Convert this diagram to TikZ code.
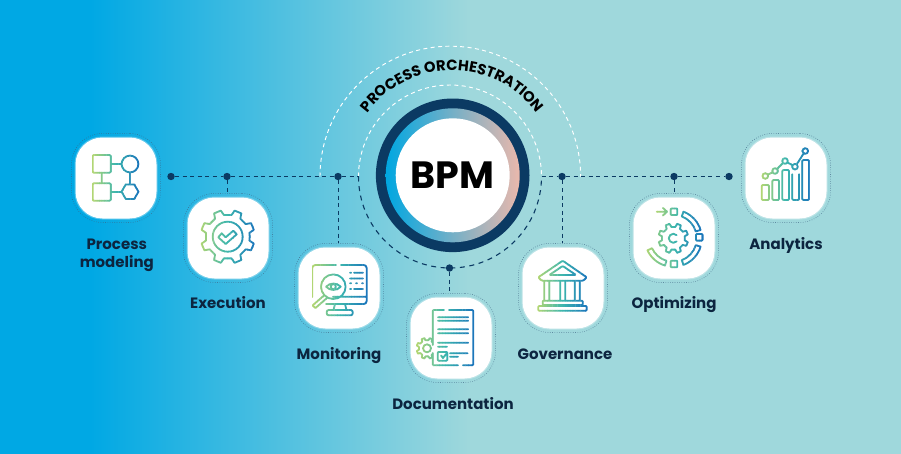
\documentclass[tikz,border=0pt]{standalone}
\usepackage{fontspec}
\setmainfont{Poppins}
\usetikzlibrary{decorations.text,arrows.meta,calc}
\definecolor{navy}{HTML}{0B3A63}
\definecolor{labelink}{HTML}{0C2540}
\definecolor{bgA}{HTML}{00A8E4}
\definecolor{bgB}{HTML}{9FD8DC}
\definecolor{icG}{HTML}{B7D871}
\definecolor{icT}{HTML}{3DB6AE}
\definecolor{icB}{HTML}{1A74BC}
\definecolor{ringA}{HTML}{00A7E1}
\definecolor{ringM}{HTML}{7FC3C8}
\definecolor{ringB}{HTML}{EAB8AC}
% Strokes a path with a left-to-right green/teal/blue ramp, one vertical strip at a time.
% #1,#2 horizontal extent; #3,#4 vertical extent; #5 the path.
\newcommand\rampstroke[5]{%
  \foreach \i in {0,...,19}{%
    \pgfmathsetmacro\xa{#1+(#2-#1)*\i/20}%
    \pgfmathsetmacro\xb{#1+(#2-#1)*(\i+1)/20+0.3}%
    \pgfmathsetmacro\tt{(\i+0.5)/20}%
    \pgfmathparse{\tt<0.5?1:0}%
    \ifnum\pgfmathresult=1
      \pgfmathsetmacro\pc{\tt*200}\colorlet{stripc}{icT!\pc!icG}%
    \else
      \pgfmathsetmacro\pc{(\tt-0.5)*200}\colorlet{stripc}{icB!\pc!icT}%
    \fi
    \begin{scope}
      \clip (\xa,#3) rectangle (\xb,#4);
      \draw[iconline,draw=stripc] #5;
    \end{scope}
  }%
}
% Closed gear outline about the current origin: #1 outer radius, #2 root radius, #3 teeth.
\newcommand\gearoutline[3]{%
  (0:#2) \foreach \k in {0,...,\numexpr#3-1\relax}{
    -- ({(\k+0.22)*360/#3}:#2) -- ({(\k+0.33)*360/#3}:#1)
    -- ({(\k+0.67)*360/#3}:#1) -- ({(\k+0.78)*360/#3}:#2)
  } -- cycle}
% One icon tile: dotted outline, pale halo, white face.
\newcommand\tile[3]{%
  \node[tilering] (#1-ring) at (#2,#3) {};
  \node[tilehalo] at (#2,#3) {};
  \node[tileface] (#1) at (#2,#3) {};
}
\tikzset{
  iconline/.style={line width=1.8pt,line join=round,line cap=round},
  tilering/.style={draw=navy!80,line width=0.5pt,dash pattern=on 0.6pt off 1.7pt,rectangle,rounded corners=31pt,minimum size=89pt,inner sep=0pt},
  tilehalo/.style={fill=white,fill opacity=0.3,rectangle,rounded corners=27.5pt,minimum size=83pt,inner sep=0pt},
  tileface/.style={fill=white,rectangle,rounded corners=27pt,minimum size=81pt,inner sep=0pt},
  link/.style={draw=navy,line width=0.85pt,dash pattern=on 4pt off 3.6pt},
  arcwhite/.style={draw=white,line width=0.95pt,dash pattern=on 4pt off 3.4pt},
  arcnavy/.style={draw=navy,line width=1.1pt,dash pattern=on 5pt off 4.6pt},
  junction/.style={circle,fill=navy,minimum size=7.4pt,inner sep=0pt},
  caption/.style={font=\fontsize{15}{18}\selectfont\bfseries,text=labelink,align=center,inner sep=0pt,anchor=base},
}
\begin{document}
\begin{tikzpicture}[x=1pt,y=-1pt]
\useasboundingbox (0,0) rectangle (901,453);
% backdrop
\fill[bgA] (-2,-2) rectangle (90.5,455);
\shade[left color=bgA,right color=bgB] (90,-2) rectangle (470.5,455);
\fill[bgB] (470,-2) rectangle (903,455);

% orbit arcs around the hub
\draw[arcwhite] (320,176.5) arc[start angle=180,end angle=360,radius=130.3];
\draw[arcwhite] (358.5,176.5) arc[start angle=180,end angle=360,radius=91.5];
\draw[arcnavy] (358.5,176.5) arc[start angle=180,end angle=0,radius=91.5];
\path[postaction={decorate,decoration={text along path,text align=center,
    text={|\fontsize{14.8}{16}\selectfont\bfseries\color{black}|PROCESS ORCHESTRATION}}}]
  (346.7,176) arc[start angle=180,end angle=360,radius=105.5];

% hub
\fill[navy] (452.7,175.3) circle[radius=76.8];
\shade[left color=ringA,middle color=ringM,right color=ringB] (452.7,175.3) circle[radius=67];
\node[circle,fill=white,minimum size=114pt,inner sep=0pt,font=\fontsize{38}{40}\selectfont\bfseries,text=black] (hub) at (452.7,175.3) {BPM};

% tiles
\tile{modeling}{116}{178}
\tile{execution}{228}{238}
\tile{monitoring}{339}{288}
\tile{documentation}{451}{338}
\tile{governance}{563}{288}
\tile{optimizing}{674}{238}
\tile{analytics}{786}{178}

% junctions and connectors
\node[junction] (jA) at (171,176.5) {};
\node[junction] (jB) at (227,176.5) {};
\node[junction] (jC) at (338,176.5) {};
\node[junction] (jD) at (562,176.5) {};
\node[junction] (jE) at (674,176.5) {};
\node[junction] (jF) at (729,176.5) {};
\node[junction] (jG) at (449.5,268) {};
\coordinate (arcL) at (358.5,176.5);
\coordinate (arcR) at (541.5,176.5);
\draw[link] (jA) -- (jB);
\draw[link] (jB) -- (jC);
\draw[link] (jC) -- (arcL);
\draw[link] (arcR) -- (jD);
\draw[link] (jD) -- (jE);
\draw[link] (jE) -- (jF);
\draw[link] (jB) -- (execution-ring.north -| jB);
\draw[link] (jC) -- (monitoring-ring.north -| jC);
\draw[link] (jD) -- (governance-ring.north -| jD);
\draw[link] (jE) -- (optimizing-ring.north -| jE);
\draw[link] (jG) -- (documentation-ring.north -| jG);

% captions
\node[caption] (capA) at (116.8,267) {Process\\modeling};
\node[caption] (capB) at (228,308.5) {Execution};
\node[caption] (capC) at (339,359) {Monitoring};
\node[caption] (capD) at (453,409) {Documentation};
\node[caption] (capE) at (565,359) {Governance};
\node[caption] (capF) at (674,308.5) {Optimizing};
\node[caption] (capG) at (786,249) {Analytics};

% process flow icon
\rampstroke{92}{140}{150}{205}{
  [rounded corners=1pt] (92.7,155) rectangle (110.7,172.7)
  (92.7,183.3) rectangle (110.7,200.7)
  [rounded corners=0pt]
  (130,164) circle[radius=8.4]
  (138.5,191.7) -- (134.2,199) -- (125.8,199) -- (121.5,191.7) -- (125.8,184.4) -- (134.2,184.4) -- cycle
  (110.7,164) -- (121.6,164) (110.7,192) -- (121.5,192)
  (101.7,172.7) -- (101.7,183.3) (130,172.4) -- (130,184.4)
}

% gear with check icon
\rampstroke{199}{256}{205}{270}{
  [shift={(227.7,236.7)}] \gearoutline{27}{22}{8}
  (0,0) circle[radius=15]
}
\rampstroke{199}{256}{205}{270}{
  (218.3,237.3) -- (221.7,233.3) -- (225.7,237.3) -- (233.3,230.7) -- (236.7,234.3) -- (225.7,244) -- cycle
}

% monitor with magnifier icon
\rampstroke{312}{368}{260}{320}{
  (312.3,297) -- (312.3,268) [rounded corners=0pt] arc[start angle=180,end angle=270,radius=3] -- (336,265)
  (341,265) -- (363.7,265) arc[start angle=270,end angle=360,radius=3] -- (366.7,301) arc[start angle=0,end angle=90,radius=3] -- (326,304)
  (333,296.7) -- (366.7,296.7)
  (335,304) -- (333.5,310) (345,304) -- (346.5,310)
  [rounded corners=2pt] (326.7,310) rectangle (352.7,315.3)
  [rounded corners=0pt]
  (333.3,286.7) circle[radius=12.3]
  (326,286.7) .. controls (330,282.5) and (337,282.5) .. (340.7,286.7) .. controls (337,291) and (330,291) .. (326,286.7)
  (333.3,286.7) circle[radius=2.6]
  (350,272.7) -- (351,272.7) (354,272.7) -- (363,272.7)
  (350,278.5) -- (363,278.5)
  (350,283.3) -- (351,283.3) (356,283.3) -- (357,283.3) (362,283.3) -- (363,283.3)
  (350,289) -- (351,289) (354,289) -- (363,289)
  (324.5,295) -- (312.5,305.5) -- (315.5,308) -- (327.5,297.5)
}

% document with gear icon
\begin{scope}
  \clip (410,330) rectangle (432,372);
  \rampstroke{416}{474}{330}{372}{
    [shift={(427,348.3)}] \gearoutline{10.5}{8.2}{8}
    (0,0) circle[radius=4]
  }
\end{scope}
\rampstroke{416}{474}{305}{370}{
  [rounded corners=1pt] (432.7,345) -- (432.7,310) -- (444,310)
  (449,310) -- (473.3,310) -- (473.3,365.3) -- (463,365.3)
  (458,365.3) -- (432.7,365.3) -- (432.7,353)
  [rounded corners=0pt]
  (438,317.3) -- (468,317.3) (438,320.7) -- (468,320.7)
  (438,329.3) -- (468,329.3) (438,333.3) -- (468,333.3)
  (438,342.7) -- (468,342.7) (438,346.7) -- (447,346.7)
  (450,353.3) -- (467.5,353.3) (450,356.7) -- (458,356.7)
  [rounded corners=0.8pt] (437.7,352) rectangle (447.3,360.7)
  [rounded corners=0pt] (441,355.5) -- (443,358) -- (446,354)
}

% temple icon
\rampstroke{537}{588}{258}{313}{
  [rounded corners=1pt] (562.7,260.7) -- (586.7,277.3) -- (583.3,280.7) -- (541.7,280.7) -- (538.3,277.3) -- cycle
  (549.3,275) -- (562.7,266) -- (576,275) -- cycle
  [rounded corners=0pt]
  (544.2,282) -- (544.2,300) (549.2,282) -- (549.2,300)
  (560.2,282) -- (560.2,300) (565.2,282) -- (565.2,300)
  (574.8,282) -- (574.8,300) (579.8,282) -- (579.8,300)
  [rounded corners=0.8pt] (542.7,300.7) rectangle (582.7,305)
  (538.3,306) rectangle (586.7,310.7)
}

% optimizing cycle icon
\rampstroke{645}{703}{205}{270}{
  [shift={(673.3,238.3)}] \gearoutline{15}{11.5}{8}
  (3.2,-3.2) arc[start angle=-45,end angle=-315,radius=4.5]
  (-69:28.5) arc[start angle=-69,end angle=-17,radius=28.5] -- (-17:23.5) arc[start angle=-17,end angle=-69,radius=23.5] -- cycle
  (17:28.5) arc[start angle=17,end angle=69,radius=28.5] -- (69:23.5) arc[start angle=69,end angle=17,radius=23.5] -- cycle
  (107:28.5) arc[start angle=107,end angle=155,radius=28.5] -- (155:23.5) arc[start angle=155,end angle=107,radius=23.5] -- cycle
}
\rampstroke{655}{704}{205}{270}{
  [rounded corners=0.8pt] (670.7,208.5) rectangle (677.3,215)
  (696,234) rectangle (702.6,240.6)
  (670.7,260.7) rectangle (677.3,267.3)
  [rounded corners=0pt]
  (656.7,211.7) -- (667,211.7) (663,208) -- (667,211.7) -- (663,215.4)
}

% analytics bars icon
\rampstroke{760}{812}{146}{203}{
  [rounded corners=1pt] (761.7,185) rectangle (769,200)
  (772.3,180) rectangle (779,200)
  (782.3,170) rectangle (789,200)
  (792.3,174.3) -- (792.3,200) -- (799,200) -- (799,174.3)
  (802.3,160) -- (802.3,200) -- (809,200) -- (809,160) -- cycle
  [rounded corners=0pt]
  (765.3,176) circle[radius=2.8]
  (775,171) circle[radius=2.8]
  (785,161) circle[radius=2.8]
  (795,166.7) circle[radius=2.8]
  (805.3,151) circle[radius=2.8]
  (767.8,174.6) -- (772.5,172.4) (777,169) -- (783,163) (787.5,162.5) -- (792.5,165.2) (796.7,164.3) -- (803.7,153.4)
}
\end{tikzpicture}
\end{document}
